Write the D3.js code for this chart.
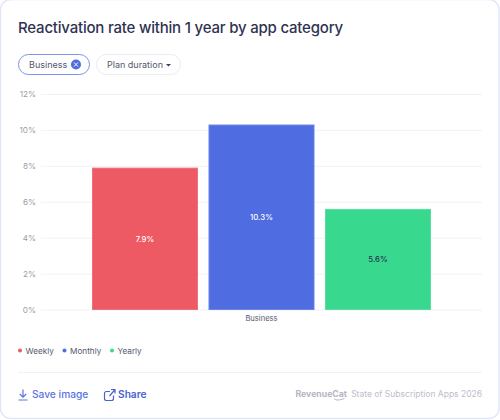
<!DOCTYPE html>
<html>
<head>
<meta charset="utf-8">
<script src="https://cdn.jsdelivr.net/npm/d3@7/dist/d3.min.js"></script>
<style>
  html, body { margin: 0; padding: 0; background: #fff; }
  svg { display: block; }
  text { font-family: Inter, "Noto Sans", sans-serif; }
</style>
</head>
<body>
<svg id="chart" width="500" height="420"></svg>
<script>
const categories = ["Business"];
const seriesNames = ["Weekly", "Monthly", "Yearly"];
const seriesValues = [7.9, 10.3, 5.6];
const seriesColors = ["#ed5a63", "#4f6ce0", "#38d88f"];
const seriesEdges = ["#f0717a", "#6a83e6", "#55dea0"];
const labelColors = ["#ffffff", "#ffffff", "#2b2f4f"];
const yTicks = [0, 2, 4, 6, 8, 10, 12];

const svg = d3.select("#chart");

// Card outline
svg.append("rect").attr("x", 0.5).attr("y", -0.5).attr("width", 498.5).attr("height", 419)
  .attr("rx", 10).attr("fill", "#fff").attr("stroke", "#e3e7fa").attr("stroke-width", 1.5);

// Title
svg.append("text").attr("x", 18).attr("y", 32.5).text("Reactivation rate within 1 year by app category")
  .attr("font-size", 15).attr("font-weight", 500).attr("letter-spacing", -0.2).attr("fill", "#2f3352");

// Filter chips
svg.append("rect").attr("x", 18.5).attr("y", 54.5).attr("width", 71).attr("height", 20).attr("rx", 10)
  .attr("fill", "#fff").attr("stroke", "#7f93ea");
svg.append("text").attr("x", 29).attr("y", 68).text("Business").attr("font-size", 9).attr("fill", "#55586f");
svg.append("circle").attr("cx", 76).attr("cy", 64.5).attr("r", 5).attr("fill", "#4f6ce0");
svg.append("path").attr("d", "M74 62.5L78 66.5M78 62.5L74 66.5").attr("stroke", "#fff").attr("stroke-width", 1);

svg.append("rect").attr("x", 96.5).attr("y", 54.5).attr("width", 84).attr("height", 20).attr("rx", 10)
  .attr("fill", "#fff").attr("stroke", "#ebecf0");
svg.append("text").attr("x", 107).attr("y", 68).text("Plan duration").attr("font-size", 9).attr("fill", "#55586f");
svg.append("path").attr("d", "M166 64h5l-2.5 2.6z").attr("fill", "#3a3d55");

// Scales
const y = d3.scaleLinear().domain([0, 12]).range([309.5, 94]);
const x0 = d3.scaleBand().domain(categories).range([41, 482]);
const x1 = d3.scaleBand().domain(seriesNames)
  .range([x0("Business") + 51, x0("Business") + x0.bandwidth() - 51]).paddingInner(0.09);

// Grid lines and value axis
const axis = d3.axisLeft(y).tickValues(yTicks).tickFormat(d => d + "%").tickSize(0).tickPadding(5);
const gAxis = svg.append("g").attr("transform", "translate(41,0)").call(axis);
gAxis.select(".domain").remove();
gAxis.selectAll("text").attr("font-size", 8.2).attr("fill", "#9a9cab").style("font-family", "Inter, sans-serif");
gAxis.selectAll(".tick").append("line").attr("x1", 0).attr("x2", 441).attr("stroke", "#f2f2f5");

// Bars with a lighter inset edge
svg.append("g").selectAll("rect").data(seriesValues).join("rect")
  .attr("x", (d, i) => x1(seriesNames[i]) + 0.5)
  .attr("y", d => y(d) + 0.5)
  .attr("width", x1.bandwidth() - 1)
  .attr("height", d => y(0) - y(d) - 0.5)
  .attr("fill", (d, i) => seriesColors[i])
  .attr("stroke", (d, i) => seriesEdges[i]);

// Value labels at the bar centres
svg.append("g").selectAll("text").data(seriesValues).join("text")
  .attr("x", (d, i) => x1(seriesNames[i]) + x1.bandwidth() / 2)
  .attr("y", d => (y(d) + y(0)) / 2 + 3)
  .attr("text-anchor", "middle").attr("font-size", 7.8).attr("font-weight", 500)
  .attr("fill", (d, i) => labelColors[i])
  .text(d => d.toFixed(1) + "%");

// Category label
svg.append("text").attr("x", x0("Business") + x0.bandwidth() / 2).attr("y", 320.5).attr("text-anchor", "middle")
  .attr("font-size", 7.6).attr("fill", "#55586f").text(categories[0]);

// Legend
const legendX = [20, 64.5, 112];
const legend = svg.append("g").selectAll("g").data(seriesNames).join("g")
  .attr("transform", (d, i) => `translate(${legendX[i]},350.5)`);
legend.append("circle").attr("r", 2).attr("fill", (d, i) => seriesColors[i]);
legend.append("text").attr("x", 5.5).attr("y", 3).attr("font-size", 8.2).attr("fill", "#55586f").text(d => d);

// Footer divider
svg.append("line").attr("x1", 18).attr("x2", 482).attr("y1", 372.5).attr("y2", 372.5).attr("stroke", "#f2f2f5");

// Save image action
svg.append("path").attr("d", "M23 389.5v7.5M19.8 394l3.2 3.2 3.2-3.2M18.5 400h9")
  .attr("fill", "none").attr("stroke", "#5a74e2").attr("stroke-width", 1.2);
svg.append("text").attr("x", 32).attr("y", 397.5).text("Save image").attr("font-size", 10.2).attr("font-weight", 500).attr("fill", "#5a74e2");

// Share action
svg.append("path").attr("d", "M110 391.5h-3.5a2 2 0 0 0-2 2v5a2 2 0 0 0 2 2h5a2 2 0 0 0 2-2v-3M109.5 396l5.5-6.5M111 389.5h4v4")
  .attr("fill", "none").attr("stroke", "#4a63cf").attr("stroke-width", 1.2);
svg.append("text").attr("x", 118).attr("y", 397.5).text("Share").attr("font-size", 10.2).attr("font-weight", 600).attr("fill", "#4a63cf");

// Brand line with the wordmark's tail
svg.append("text").attr("x", 295.5).attr("y", 396.5).text("RevenueCat").attr("font-size", 8.7).attr("font-weight", 700).attr("fill", "#b4b6c4");
svg.append("path").attr("d", "M334 398.5c2 2.5 6 1.5 10.5 0").attr("fill", "none").attr("stroke", "#b4b6c4").attr("stroke-width", 1);
svg.append("text").attr("x", 482).attr("y", 396.5).attr("text-anchor", "end").text("State of Subscription Apps 2026")
  .attr("font-size", 8.5).attr("fill", "#bcbecb");
</script>
</body>
</html>
